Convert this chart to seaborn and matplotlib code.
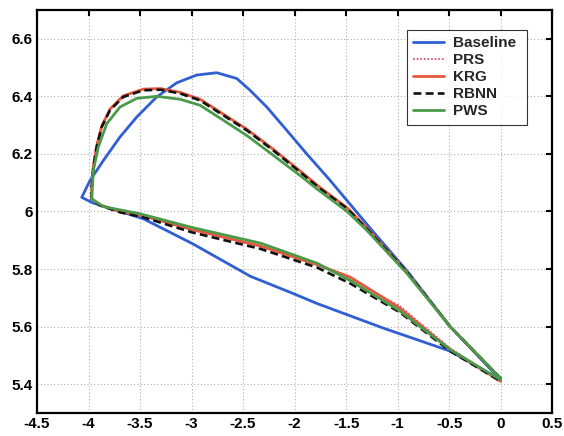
import numpy as np
import pandas as pd
import matplotlib
matplotlib.use("Agg")
import matplotlib.pyplot as plt
import seaborn as sns

# ---- airfoil contours: upper surface (LE -> TE), lower surface (LE -> TE) ----
baseline_upper_x = [-4.066, -3.985, -3.856, -3.694, -3.532, -3.338, -3.144, -2.95, -2.755,
                    -2.561, -2.432, -2.27, -2.076, -1.882, -1.655, -1.25, -0.90, -0.49, 0.00]
baseline_upper_y = [6.049, 6.108, 6.177, 6.259, 6.328, 6.398, 6.447, 6.474, 6.482,
                    6.462, 6.421, 6.363, 6.282, 6.20, 6.108, 5.935, 5.79, 5.60, 5.415]
baseline_lower_x = [-4.066, -3.96, -3.47, -2.99, -2.43, -2.00, -1.78, -1.14, -0.49, 0.00]
baseline_lower_y = [6.049, 6.03, 5.975, 5.888, 5.775, 5.713, 5.68, 5.595, 5.515, 5.415]

opt_upper_x = [-3.969, -3.969, -3.953, -3.921, -3.872, -3.791, -3.662, -3.468, -3.30,
               -3.112, -2.917, -2.691, -2.464, -2.206, -1.947, -1.752, -1.49, -1.30,
               -0.91, -0.49, 0.00]
opt_lower_x = [-3.969, -3.888, -3.694, -3.47, -2.99, -2.33, -1.78, -1.46, -0.98, -0.49, 0.00]

prs_upper_y = [6.044, 6.086, 6.157, 6.227, 6.296, 6.355, 6.401, 6.424, 6.426,
               6.413, 6.389, 6.337, 6.285, 6.215, 6.140, 6.082, 6.013, 5.943,
               5.79, 5.60, 5.42]
prs_lower_y = [6.044, 6.021, 5.999, 5.983, 5.935, 5.878, 5.815, 5.765, 5.672, 5.525, 5.41]

krg_upper_y = [6.044, 6.086, 6.157, 6.227, 6.297, 6.356, 6.402, 6.425, 6.427,
               6.414, 6.390, 6.338, 6.286, 6.216, 6.141, 6.083, 6.013, 5.943,
               5.79, 5.60, 5.42]
krg_lower_y = [6.044, 6.022, 6.0, 5.985, 5.937, 5.88, 5.815, 5.772, 5.665, 5.52, 5.41]

rbnn_upper_y = [6.044, 6.084, 6.154, 6.224, 6.293, 6.352, 6.398, 6.421, 6.423,
                6.410, 6.386, 6.334, 6.282, 6.212, 6.137, 6.079, 6.01, 5.94,
                5.79, 5.60, 5.42]
rbnn_lower_y = [6.044, 6.021, 5.997, 5.98, 5.927, 5.87, 5.805, 5.75, 5.65, 5.515, 5.41]

pws_upper_x = [-3.969, -3.953, -3.905, -3.823, -3.694, -3.532, -3.338, -3.112, -2.917,
               -2.691, -2.464, -2.206, -1.947, -1.785, -1.49, -1.30, -0.91, -0.49, 0.00]
pws_upper_y = [6.044, 6.143, 6.224, 6.305, 6.363, 6.393, 6.400, 6.390, 6.369,
               6.317, 6.264, 6.195, 6.125, 6.079, 6.00, 5.935, 5.785, 5.60, 5.42]
pws_lower_x = [-3.969, -3.856, -3.50, -2.99, -2.33, -1.78, -1.46, -0.98, -0.49, 0.00]
pws_lower_y = [6.044, 6.017, 5.992, 5.944, 5.89, 5.82, 5.76, 5.655, 5.52, 5.415]

series_names = ["Baseline", "PRS", "KRG", "RBNN", "PWS"]
x_ticks = [-4.5, -4, -3.5, -3, -2.5, -2, -1.5, -1, -0.5, 0, 0.5]
x_tick_labels = ["-4.5", "-4", "-3.5", "-3", "-2.5", "-2", "-1.5", "-1", "-0.5", "0", "0.5"]
y_ticks = [5.4, 5.6, 5.8, 6.0, 6.2, 6.4, 6.6]
y_tick_labels = ["5.4", "5.6", "5.8", "6", "6.2", "6.4", "6.6"]


def closed_contour(ux, uy, lx, ly):
    # walk from the trailing edge over the upper surface to the LE, then back along the lower
    xs = list(ux[::-1]) + list(lx[1:])
    ys = list(uy[::-1]) + list(ly[1:])
    return xs, ys


contours = {
    "Baseline": closed_contour(baseline_upper_x, baseline_upper_y, baseline_lower_x, baseline_lower_y),
    "PRS": closed_contour(opt_upper_x, prs_upper_y, opt_lower_x, prs_lower_y),
    "KRG": closed_contour(opt_upper_x, krg_upper_y, opt_lower_x, krg_lower_y),
    "RBNN": closed_contour(opt_upper_x, rbnn_upper_y, opt_lower_x, rbnn_lower_y),
    "PWS": closed_contour(pws_upper_x, pws_upper_y, pws_lower_x, pws_lower_y),
}

frames = []
for name in series_names:
    xs, ys = contours[name]
    frames.append(pd.DataFrame({"x": xs, "y": ys, "series": name, "order": np.arange(len(xs))}))
df = pd.concat(frames, ignore_index=True)

styles = {
    "Baseline": dict(color="#2f5fd3", lw=2.0, ls="-"),
    "PRS": dict(color="#d9508c", lw=1.3, ls=(0, (1, 1))),
    "KRG": dict(color="#e5583c", lw=2.0, ls="-"),
    "RBNN": dict(color="#111111", lw=1.9, ls=(0, (3, 1.6))),
    "PWS": dict(color="#4b9a4b", lw=2.0, ls="-"),
}

sns.set_theme(style="white")
plt.rcParams["font.family"] = ["Liberation Sans", "DejaVu Sans"]
plt.rcParams["font.weight"] = "bold"

fig = plt.figure(figsize=(5.64, 4.36), dpi=100)
ax = fig.add_axes([0.0656, 0.0528, 0.9134, 0.9243])

for name in series_names:
    st = styles[name]
    sns.lineplot(data=df[df["series"] == name], x="x", y="y", sort=False, estimator=None,
                 ax=ax, color=st["color"], linewidth=st["lw"], linestyle=st["ls"], label=name)
for line in ax.get_lines():
    line.set_solid_joinstyle("round")
    line.set_dash_joinstyle("round")

ax.set_xlim(-4.5, 0.5)
ax.set_ylim(5.3, 6.7)
ax.set_xticks(x_ticks)
ax.set_xticklabels(x_tick_labels, fontsize=11, fontweight="bold")
ax.set_yticks(y_ticks)
ax.set_yticklabels(y_tick_labels, fontsize=11, fontweight="bold")
ax.set_xlabel("")
ax.set_ylabel("")
ax.grid(True, color="#b0b0b0", linestyle=(0, (1, 2)), linewidth=0.8)
ax.tick_params(direction="in", length=4, width=1.5, top=True, right=True,
               colors="black", pad=3)
for sp in ax.spines.values():
    sp.set_linewidth(1.6)
    sp.set_color("black")

leg = ax.legend(loc="upper left", bbox_to_anchor=(0.718, 0.712, 0.233, 0.238),
                mode="expand", borderaxespad=0,
                frameon=True, fancybox=False, edgecolor="black", handlelength=2.0,
                labelspacing=0.2, borderpad=0.4, handletextpad=0.6,
                prop={"weight": "bold", "size": 11})
leg.get_frame().set_linewidth(0.8)

fig.savefig("out.png", dpi=100)
